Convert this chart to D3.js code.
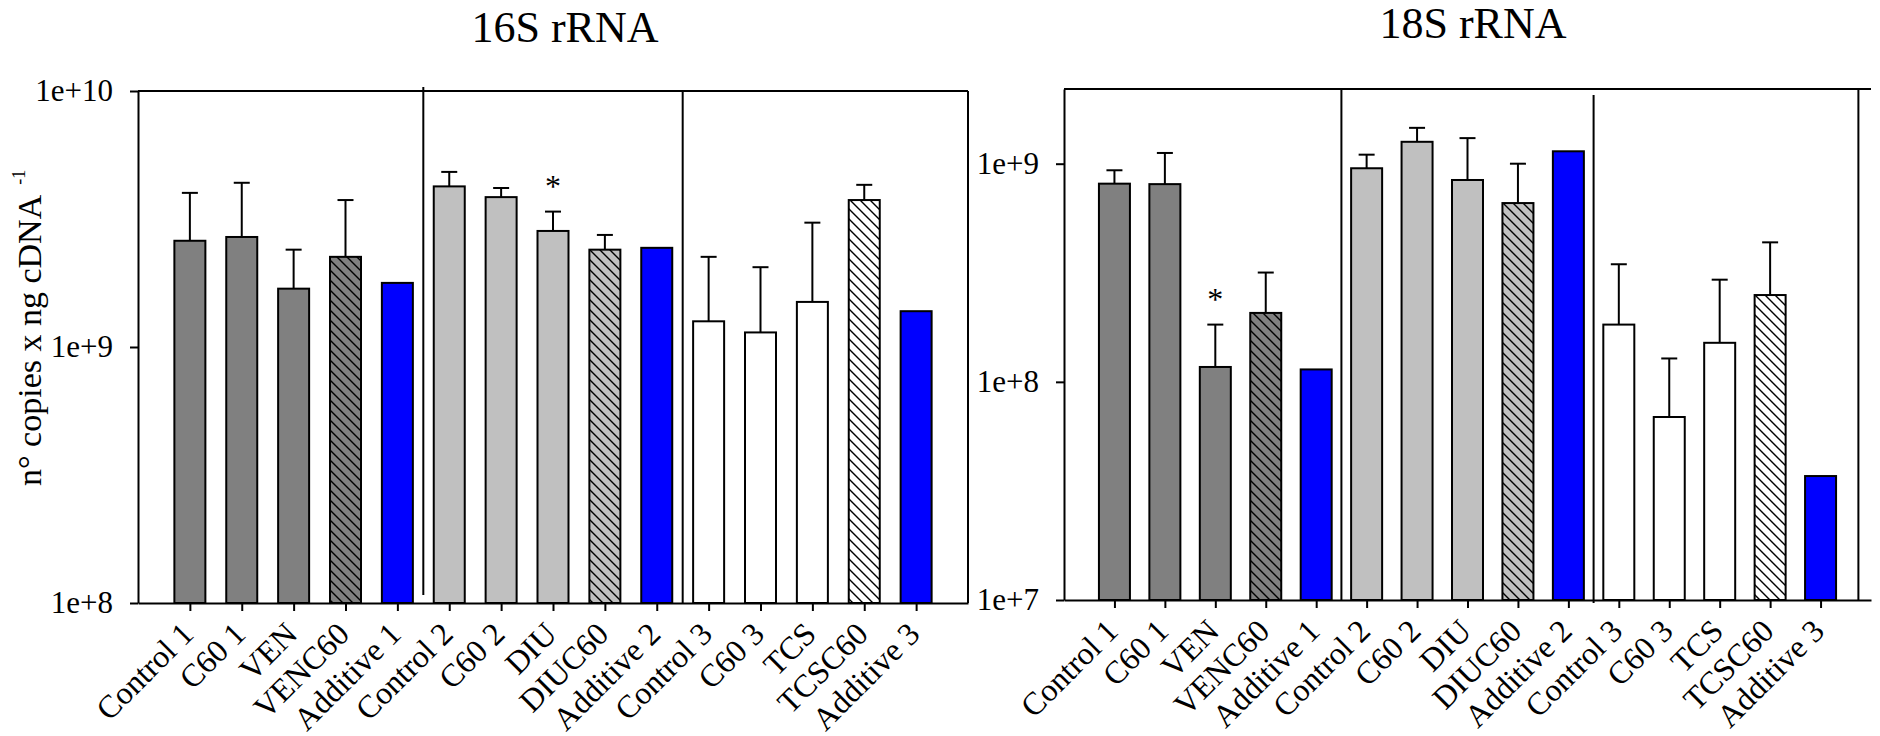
<!DOCTYPE html>
<html>
<head>
<meta charset="utf-8">
<script src="https://cdn.jsdelivr.net/npm/d3@7/dist/d3.min.js"></script>
<style>
  body { margin: 0; background: #fff; }
  svg { display: block; }
</style>
</head>
<body>
<svg id="chart" width="1880" height="736"></svg>
<script>
// Data: nº copies per ng cDNA (log scale).
const categories = [
    "Control 1", "C60 1", "VEN", "VENC60", "Additive 1",
    "Control 2", "C60 2", "DIU", "DIUC60", "Additive 2",
    "Control 3", "C60 3", "TCS", "TCSC60", "Additive 3",
];

const rna16Mean = [2.60e9, 2.69e9, 1.69e9, 2.25e9, 1.78e9,
                   4.24e9, 3.85e9, 2.84e9, 2.40e9, 2.44e9,
                   1.26e9, 1.14e9, 1.50e9, 3.75e9, 1.38e9];
const rna16Err  = [1.40e9, 1.69e9, 0.71e9, 1.50e9, 0,
                   0.59e9, 0.33e9, 0.54e9, 0.34e9, 0,
                   0.99e9, 0.91e9, 1.56e9, 0.55e9, 0];

const rna18Mean = [8.10e8, 8.06e8, 1.17e8, 2.07e8, 1.14e8,
                   9.53e8, 1.26e9, 8.42e8, 6.60e8, 1.14e9,
                   1.83e8, 6.90e7, 1.51e8, 2.50e8, 3.70e7];
const rna18Err  = [1.23e8, 3.14e8, 0.66e8, 1.10e8, 0,
                   1.47e8, 2.00e8, 4.68e8, 3.40e8, 0,
                   1.63e8, 0.59e8, 1.43e8, 1.86e8, 0];

const rna16Ticks = [1e8, 1e9, 1e10];
const rna18Ticks = [1e7, 1e8, 1e9];

// indexes of bars flagged as significant
const rna16Stars = [7];
const rna18Stars = [2];

// --- appearance -----------------------------------------------------------

const FONT = "'Liberation Serif', 'Times New Roman', Times, serif";
const GROUP_FILL = ["#808080", "#c0c0c0", "#ffffff"];
const ADDITIVE_FILL = "#0000ff";
const LINE_W = 2;
const BAR_W = 31;

const PANELS = [
    {
        title: "16S rRNA", titleX: 565, titleY: 42,
        mean: rna16Mean, err: rna16Err, ticks: rna16Ticks, stars: rna16Stars,
        domain: [1e8, 1e10],
        left: 138, right: 968, top: 91, bottom: 603,
        seps: [{ at: 4.5, y0: 87, y1: 595 }, { at: 9.5, y0: 91, y1: 603 }],
        edgeAt: 15,
    },
    {
        title: "18S rRNA", titleX: 1473, titleY: 38,
        mean: rna18Mean, err: rna18Err, ticks: rna18Ticks, stars: rna18Stars,
        domain: [1e7, 2.2e9],
        left: 1064, right: 1871, top: 89, bottom: 600,
        seps: [{ at: 4.5, y0: 89, y1: 600 }, { at: 9.5, y0: 95, y1: 603 }],
        edgeAt: 14.75,
    },
];

const svg = d3.select("#chart");
const defs = svg.append("defs");

// hatch patterns, one per group background
GROUP_FILL.forEach((bg, g) => {
    const p = defs.append("pattern")
        .attr("id", `hatch-${g}`)
        .attr("patternUnits", "userSpaceOnUse")
        .attr("width", 10)
        .attr("height", 10);
    p.append("rect").attr("width", 10).attr("height", 10).attr("fill", bg);
    p.append("path")
        .attr("d", "M0,0 L10,10 M-3,7 L3,13 M7,-3 L13,3")
        .attr("stroke", "#000")
        .attr("stroke-width", 1.4);
});

function barFill(i) {
    const group = Math.floor(i / 5);
    const pos = i % 5;
    if (pos === 4) return ADDITIVE_FILL;
    if (pos === 3) return `url(#hatch-${group})`;
    return GROUP_FILL[group];
}

PANELS.forEach(drawPanel);

// y axis label
const yLabel = svg.append("text")
    .attr("transform", "translate(41, 486) rotate(-90)")
    .attr("font-family", FONT)
    .attr("font-size", 34)
    .attr("fill", "#000");
yLabel.append("tspan").text("n\u00b0 copies x ng cDNA");
yLabel.append("tspan").attr("font-size", 18).attr("dx", 10).attr("dy", -16).text("-1");

function drawPanel(p) {
    const x = d3.scalePoint()
        .domain(categories)
        .range([p.left, p.right])
        .padding(1);
    const step = x.step();
    const xAt = (k) => x(categories[0]) + k * step;

    const y = d3.scaleLog()
        .domain(p.domain)
        .range([p.bottom, p.top]);

    const g = svg.append("g");

    // title
    g.append("text")
        .attr("x", p.titleX)
        .attr("y", p.titleY)
        .attr("text-anchor", "middle")
        .attr("font-family", FONT)
        .attr("font-size", 44)
        .text(p.title);

    // bars
    g.append("g")
        .selectAll("rect")
        .data(categories)
        .enter()
        .append("rect")
        .attr("x", (d) => x(d) - BAR_W / 2)
        .attr("width", BAR_W)
        .attr("y", (d, i) => y(p.mean[i]))
        .attr("height", (d, i) => p.bottom - y(p.mean[i]))
        .attr("fill", (d, i) => barFill(i))
        .attr("stroke", "#000")
        .attr("stroke-width", LINE_W);

    // error bars (upper only)
    const errData = categories
        .map((c, i) => ({ c, lo: p.mean[i], hi: p.mean[i] + p.err[i] }))
        .filter((d) => d.hi > d.lo);

    const eg = g.append("g")
        .attr("stroke", "#000")
        .attr("stroke-width", LINE_W);
    eg.selectAll("line.stem")
        .data(errData)
        .enter()
        .append("line")
        .attr("class", "stem")
        .attr("x1", (d) => x(d.c))
        .attr("x2", (d) => x(d.c))
        .attr("y1", (d) => y(d.lo))
        .attr("y2", (d) => y(d.hi));
    eg.selectAll("line.cap")
        .data(errData)
        .enter()
        .append("line")
        .attr("class", "cap")
        .attr("x1", (d) => x(d.c) - 8)
        .attr("x2", (d) => x(d.c) + 8)
        .attr("y1", (d) => y(d.hi))
        .attr("y2", (d) => y(d.hi));

    // significance stars
    g.append("g")
        .selectAll("text")
        .data(p.stars)
        .enter()
        .append("text")
        .attr("x", (i) => x(categories[i]))
        .attr("y", (i) => y(p.mean[i] + p.err[i]) - 15)
        .attr("text-anchor", "middle")
        .attr("font-family", FONT)
        .attr("font-size", 32)
        .text("*");

    // group separators and right edge line
    const lines = g.append("g")
        .attr("stroke", "#000")
        .attr("stroke-width", LINE_W);
    p.seps.forEach((s) => {
        lines.append("line")
            .attr("x1", xAt(s.at)).attr("x2", xAt(s.at))
            .attr("y1", s.y0).attr("y2", s.y1);
    });
    lines.append("line")
        .attr("x1", xAt(p.edgeAt)).attr("x2", xAt(p.edgeAt))
        .attr("y1", p.top).attr("y2", p.bottom);
    lines.append("line")
        .attr("x1", p.left).attr("x2", p.right)
        .attr("y1", p.top).attr("y2", p.top);

    // axes
    const yAxis = g.append("g")
        .attr("transform", `translate(${p.left},0)`)
        .call(d3.axisLeft(y)
            .tickValues(p.ticks)
            .tickSize(8)
            .tickSizeOuter(0)
            .tickPadding(17)
            .tickFormat((v) => "1e+" + Math.round(Math.log10(v))));

    const xAxis = g.append("g")
        .attr("transform", `translate(0,${p.bottom})`)
        .call(d3.axisBottom(x).tickSize(8).tickSizeOuter(0));

    [yAxis, xAxis].forEach((a) => {
        a.attr("font-family", FONT).attr("font-size", 32);
        a.selectAll("path, line")
            .attr("stroke", "#000")
            .attr("stroke-width", LINE_W);
        a.selectAll("text").attr("fill", "#000");
    });

    yAxis.selectAll(".tick text").attr("font-size", 31);

    xAxis.selectAll(".tick text")
        .attr("x", 0)
        .attr("y", 0)
        .attr("dy", null)
        .attr("transform", "translate(5,33) rotate(-45)")
        .style("text-anchor", "end");
}
</script>
</body>
</html>
